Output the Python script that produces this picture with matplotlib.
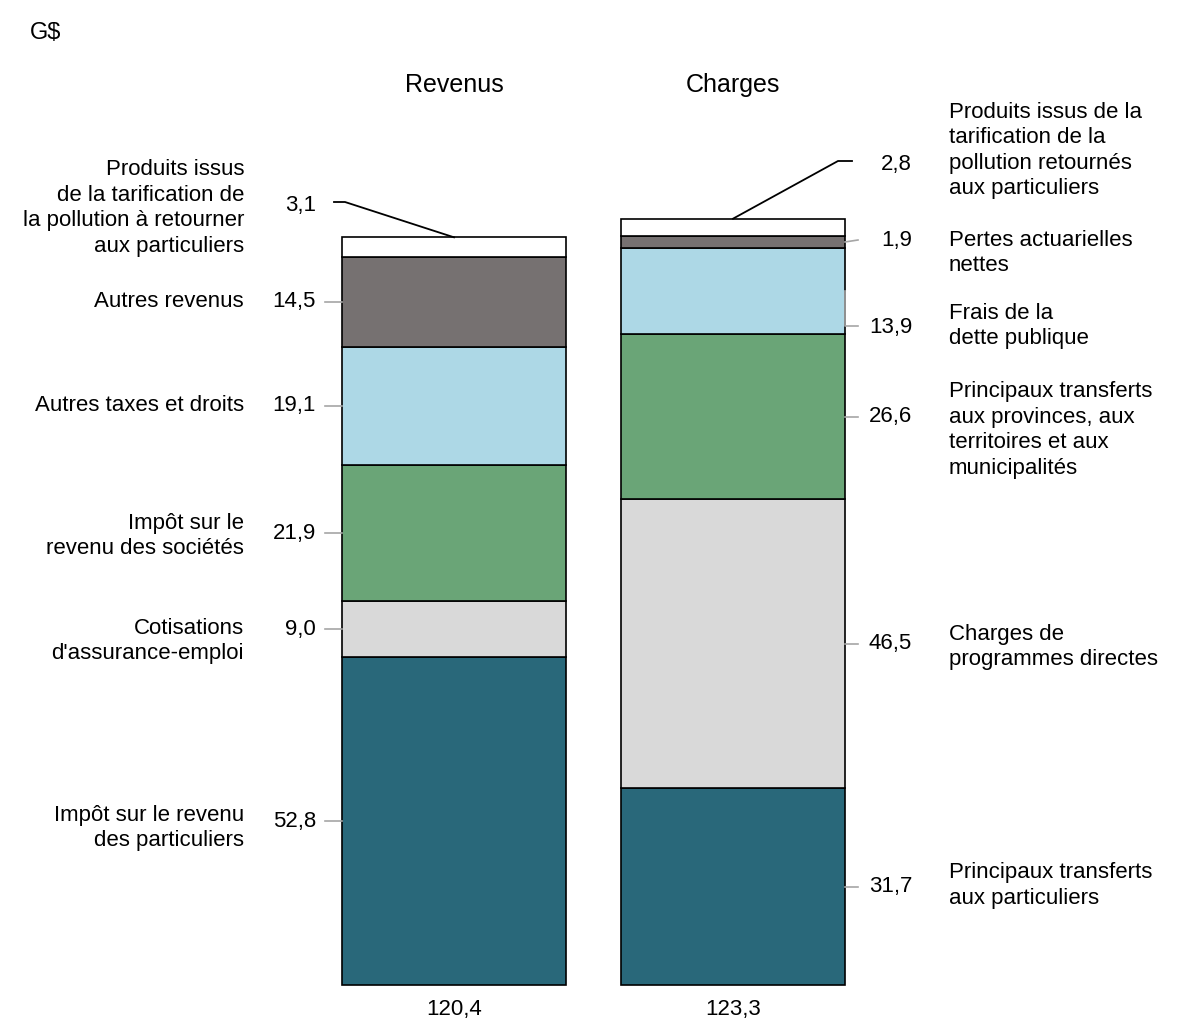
import matplotlib.pyplot as plt

plt.rcParams['font.family'] = ['Liberation Sans', 'DejaVu Sans']

# Revenus (bas -> haut)
rev_labels = ["Impôt sur le revenu\ndes particuliers",
              "Cotisations\nd'assurance-emploi",
              "Impôt sur le\nrevenu des sociétés",
              "Autres taxes et droits",
              "Autres revenus",
              "Produits issus\nde la tarification de\nla pollution à retourner\naux particuliers"]
rev_values = [52.8, 9.0, 21.9, 19.1, 14.5, 3.1]

# Charges (bas -> haut)
chg_labels = ["Principaux transferts\naux particuliers",
              "Charges de\nprogrammes directes",
              "Principaux transferts\naux provinces, aux\nterritoires et aux\nmunicipalités",
              "Frais de la\ndette publique",
              "Pertes actuarielles\nnettes",
              "Produits issus de la\ntarification de la\npollution retournés\naux particuliers"]
chg_values = [31.7, 46.5, 26.6, 13.9, 1.9, 2.8]

colors = ['#29687a', '#d9d9d9', '#6aa577', '#add8e6', '#767171', '#ffffff']
bars = ['Revenus', 'Charges']
totals = [120.4, 123.3]


def fmt(v):
    return f"{v:.1f}".replace('.', ',')


W, H = 1177, 1032
fig = plt.figure(figsize=(W / 100, H / 100), dpi=100)
ax = fig.add_axes([0, 0, 1, 1])

# échelle : bas des barres à y=985 px, 6,21 px par G$ ; centres des barres à 454 et 733 px
sy = 6.21
x0, dx = 454, 279
ax.set_xlim(-x0 / dx, (W - x0) / dx)
ax.set_ylim(-(H - 985) / sy, 985 / sy)
ax.axis('off')


def px(p):
    return (p - x0) / dx


def py(p):
    return (985 - p) / sy


for i, vals in enumerate([rev_values, chg_values]):
    bottom = 0
    for v, c in zip(vals, colors):
        ax.bar(i, v, bottom=bottom, width=224 / dx, color=c,
               edgecolor='black', linewidth=1.2)
        bottom += v

fs = 16
ls = 1.28
grey = '#a6a6a6'

# --- côté gauche (revenus)
lab_dy = [7, 12, 3, 0, 0, 3]  # décalage en px du libellé par rapport à la valeur
cum = 0
for k, (lab, v) in enumerate(zip(rev_labels, rev_values)):
    mid = cum + v / 2
    cum += v
    if k == len(rev_values) - 1:
        vy = py(205)
        ax.plot([px(334), px(345), 0], [py(202), py(202), cum],
                color='black', lw=1.3)
    else:
        vy = mid
        ax.plot([px(325), px(342)], [vy, vy], color=grey, lw=1.2)
    ax.text(px(316), vy, fmt(v), ha='right', va='center', fontsize=fs)
    ax.text(px(244), vy - lab_dy[k] / sy, lab, ha='right', va='center',
            fontsize=fs, linespacing=ls, multialignment='right')

# --- côté droit (charges)
val_dy = [0, 0, 0, 36, -1, -63]
lab_dy = [-1, 3, 13, -1, 12, -14]
cum = 0
for k, (lab, v) in enumerate(zip(chg_labels, chg_values)):
    mid = cum + v / 2
    cum += v
    vy = mid - val_dy[k] / sy
    if k == 5:
        ax.plot([px(852), px(838), 1], [py(161), py(161), cum],
                color='black', lw=1.3)
    elif k == 3:
        ax.plot([px(845), px(845), px(858)], [py(291), py(326), py(326)],
                color=grey, lw=1.2)
    elif k == 4:
        ax.plot([px(845), px(858)], [mid, py(240)], color=grey, lw=1.2)
    else:
        ax.plot([px(845), px(858)], [vy, vy], color=grey, lw=1.2)
    ax.text(px(912), vy, fmt(v), ha='right', va='center', fontsize=fs)
    ax.text(px(949), vy - lab_dy[k] / sy, lab, ha='left', va='center',
            fontsize=fs, linespacing=ls)

# titres et totaux
for i, (b, t) in enumerate(zip(bars, totals)):
    ax.text(i, py(85), b, ha='center', va='center', fontsize=18)
    ax.text(i, py(1010), fmt(t), ha='center', va='center', fontsize=16)

ax.text(px(30), py(33), 'G$', ha='left', va='center', fontsize=17)

fig.savefig('out.png', dpi=100)
